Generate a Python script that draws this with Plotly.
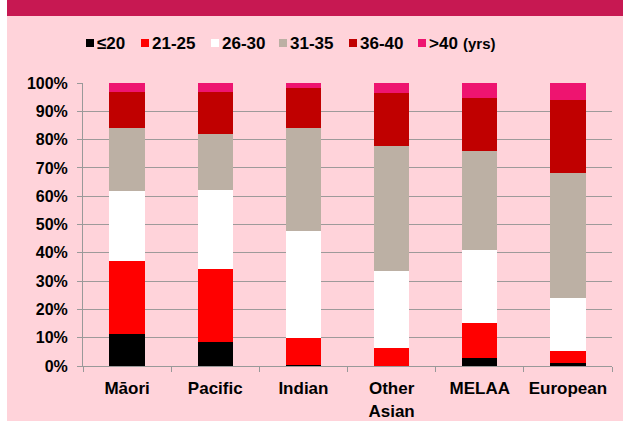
import plotly.graph_objects as go

categories = ["Māori", "Pacific", "Indian", "Other<br>Asian", "MELAA", "European"]
age_groups = ["≤20", "21-25", "26-30", "31-35", "36-40", ">40"]
le20 = [11.3, 8.4, 0.3, 0.0, 2.8, 1.0]
a21_25 = [25.7, 25.8, 9.5, 6.4, 12.3, 4.2]
a26_30 = [25.0, 28.1, 38.0, 27.1, 25.8, 18.9]
a31_35 = [22.2, 19.7, 36.4, 44.2, 35.0, 44.2]
a36_40 = [12.7, 14.9, 14.2, 18.6, 18.9, 25.7]
gt40 = [3.1, 3.1, 1.6, 3.7, 5.2, 6.0]
series = [le20, a21_25, a26_30, a31_35, a36_40, gt40]
colors = ["#000000", "#FF0000", "#FFFFFF", "#BCB0A4", "#C00000", "#EE1470"]

# legend layout (pixel x of each legend swatch's left edge)
legend_x = [86, 141, 211, 279, 349, 418]
legend_y = 43
FONT = "Liberation Sans, Arial, sans-serif"

fig = go.Figure()
for name, vals, col in zip(age_groups, series, colors):
    fig.add_trace(go.Bar(x=categories, y=vals, name=name,
                         marker=dict(color=col, line=dict(width=0))))

W, H = 623, 421
L, R, T, B = 83, 11, 83, 55
pw, ph = W - L - R, H - T - B

def px(x):
    return (x - L) / pw

def py(y):
    return (H - B - y) / ph

shapes = [
    dict(type="rect", xref="paper", yref="paper", x0=px(0), x1=px(7), y0=py(H), y1=py(0),
         fillcolor="#FFFFFF", line=dict(width=0), layer="below"),
    dict(type="rect", xref="paper", yref="paper", x0=px(7), x1=px(W), y0=py(16), y1=py(0),
         fillcolor="#C71852", line=dict(width=0), layer="below"),
]
annotations = []
for name, col, lx in zip(age_groups, colors, legend_x):
    shapes.append(dict(type="rect", xref="paper", yref="paper",
                       x0=px(lx), x1=px(lx + 8), y0=py(legend_y + 4), y1=py(legend_y - 4),
                       fillcolor=col, line=dict(width=0)))
    annotations.append(dict(text=name, xref="paper", yref="paper", x=px(lx + 9),
                            y=py(legend_y), xanchor="left", yanchor="middle",
                            showarrow=False,
                            font=dict(size=17, family=FONT, weight="bold")))
annotations.append(dict(text="(yrs)", xref="paper", yref="paper", x=px(461), y=py(legend_y + 1),
                        xanchor="left", yanchor="middle", showarrow=False,
                        font=dict(size=15, family=FONT, weight="bold")))

fig.update_layout(
    width=W, height=H,
    margin=dict(l=L, r=R, t=T, b=B),
    barmode="stack", bargap=0.6,
    paper_bgcolor="#FFD3DA", plot_bgcolor="#FFD3DA",
    font=dict(family=FONT, color="#000000"),
    showlegend=False,
    xaxis=dict(showline=True, linecolor="#999999", linewidth=1,
               ticks="outside", tickson="boundaries", ticklen=5, tickcolor="#999999",
               tickfont=dict(size=17, weight="bold"), showgrid=False,
               tickangle=0, automargin=False, ticklabelstandoff=7),
    yaxis=dict(range=[0, 100], dtick=10, ticksuffix="%",
               showline=True, linecolor="#999999", linewidth=1,
               ticks="outside", ticklen=5, tickcolor="#999999",
               showgrid=True, gridcolor="#9E9A9A", gridwidth=1,
               tickfont=dict(size=16, weight="bold"), zeroline=False,
               automargin=False, ticklabelstandoff=6),
    shapes=shapes,
    annotations=annotations,
)

fig.write_html("out.html")
